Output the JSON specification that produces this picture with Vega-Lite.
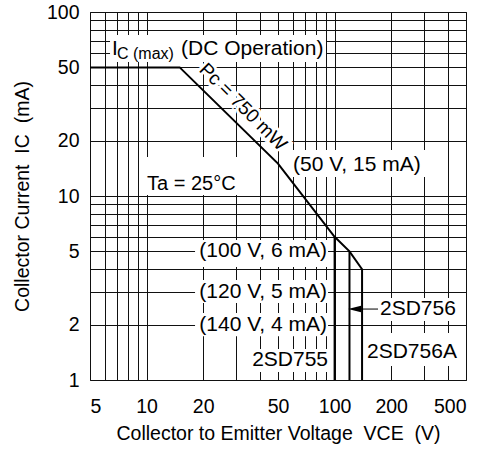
{
  "$schema": "https://vega.github.io/schema/vega-lite/v6.json",
  "width": 376,
  "height": 368,
  "autosize": {"type": "none"},
  "padding": {"left": 90, "top": 12, "right": 28, "bottom": 72},
  "background": "white",
  "config": {
    "view": {"stroke": "#222", "strokeWidth": 1},
    "font": "Liberation Sans",
    "text": {"font": "Liberation Sans", "color": "#000"},
    "axis": {
      "domain": false,
      "ticks": true,
      "tickSize": 0,
      "tickWidth": 0,
      "grid": true,
      "gridColor": "#111",
      "gridWidth": 1,
      "gridOpacity": 1,
      "labelFont": "Liberation Sans",
      "labelFontSize": 19.5,
      "labelColor": "#000",
      "labelOverlap": false,
      "titleFont": "Liberation Sans",
      "titleFontSize": 19.5,
      "titleFontWeight": "normal",
      "titleColor": "#000"
    }
  },
  "datasets": {
    "masks": [
      {"x": 6.39, "x2": 90, "y": 53.5, "y2": 75},
      {"x": 9.57, "x2": 35.5, "y": 10.13, "y2": 16.3},
      {"x": 57.9, "x2": 306, "y": 12.69, "y2": 17.8},
      {"x": 18.1, "x2": 92.3, "y": 4.11, "y2": 5.77},
      {"x": 18.1, "x2": 92.3, "y": 2.62, "y2": 3.5},
      {"x": 18.1, "x2": 92.3, "y": 1.73, "y2": 2.31},
      {"x": 35.5, "x2": 93.4, "y": 1.105, "y2": 1.474},
      {"x": 143.4, "x2": 464.6, "y": 2.094, "y2": 2.79},
      {"x": 143.4, "x2": 464.6, "y": 1.19, "y2": 1.8}
    ],
    "soa": [
      {"x": 5, "y": 50, "ord": 1},
      {"x": 15, "y": 50, "ord": 2},
      {"x": 50, "y": 15, "ord": 3},
      {"x": 100, "y": 6, "ord": 4},
      {"x": 120, "y": 5, "ord": 5},
      {"x": 140, "y": 4, "ord": 6},
      {"x": 140, "y": 1, "ord": 7}
    ],
    "vlines": [
      {"x": 100, "y": 1, "y2": 6},
      {"x": 120, "y": 1, "y2": 5}
    ],
    "arrow": [
      {"x": 127.6, "x2": 170.2, "y": 2.43}
    ],
    "labels": [
      {"kind": "big", "x": 6.55, "y": 58.4, "text": "I"},
      {"kind": "sub", "x": 6.96, "y": 55.6, "text": "C (max)"},
      {"kind": "big", "x": 15.24, "y": 58.4, "text": "(DC Operation)"},
      {"kind": "big", "x": 60.1, "y": 13.67, "text": "(50 V, 15 mA)"},
      {"kind": "ta", "x": 10.05, "y": 10.78, "text": "Ta = 25°C"},
      {"kind": "pc", "x": 32.6, "y": 30.5, "text": "Pc = 750 mW"},
      {"kind": "right", "x": 91.1, "y": 5, "text": "(100 V, 6 mA)"},
      {"kind": "right", "x": 91.1, "y": 3, "text": "(120 V, 5 mA)"},
      {"kind": "right", "x": 91.1, "y": 2, "text": "(140 V, 4 mA)"},
      {"kind": "right", "x": 92.3, "y": 1.284, "text": "2SD755"},
      {"kind": "left", "x": 174.3, "y": 2.43, "text": "2SD756"},
      {"kind": "left", "x": 148.7, "y": 1.42, "text": "2SD756A"}
    ]
  },
  "encoding": {
    "x": {
      "field": "x",
      "type": "quantitative",
      "scale": {"type": "log", "domain": [5, 500], "nice": false, "zero": false},
      "axis": {
        "values": [5, 6, 7, 8, 9, 10, 20, 30, 40, 50, 60, 70, 80, 90, 100, 200, 300, 400, 500],
        "labelExpr": "indexof([5,10,20,50,100,200,500], datum.value) >= 0 ? format(datum.value, 'd') : ''",
        "labelPadding": 17,
        "title": "Collector to Emitter Voltage\u00a0 VCE\u00a0 (V)",
        "titlePadding": 9
      }
    },
    "y": {
      "field": "y",
      "type": "quantitative",
      "scale": {"type": "log", "domain": [1, 100], "nice": false, "zero": false},
      "axis": {
        "values": [1, 2, 3, 4, 5, 6, 7, 8, 9, 10, 20, 30, 40, 50, 60, 70, 80, 90, 100],
        "labelExpr": "indexof([1,2,5,10,20,50,100], datum.value) >= 0 ? format(datum.value, 'd') : ''",
        "labelPadding": 11,
        "title": "Collector Current\u00a0 IC\u00a0 (mA)",
        "titlePadding": 14
      }
    }
  },
  "layer": [
    {
      "data": {"name": "masks"},
      "mark": {"type": "rect", "fill": "white", "strokeWidth": 0, "opacity": 1},
      "encoding": {
        "x2": {"field": "x2"},
        "y2": {"field": "y2"}
      }
    },
    {
      "data": {"name": "labels"},
      "transform": [{"filter": "datum.kind === 'pc'"}],
      "mark": {"type": "text", "fontSize": 19, "align": "center", "baseline": "middle", "angle": 45, "fill": "white", "stroke": "white", "strokeWidth": 6},
      "encoding": {"text": {"field": "text"}}
    },
    {
      "data": {"name": "soa"},
      "mark": {"type": "line", "color": "#000", "strokeWidth": 2, "strokeCap": "butt"},
      "encoding": {"order": {"field": "ord"}}
    },
    {
      "data": {"name": "vlines"},
      "mark": {"type": "rule", "color": "#000", "strokeWidth": 2},
      "encoding": {"y2": {"field": "y2"}}
    },
    {
      "data": {"name": "arrow"},
      "mark": {"type": "rule", "color": "#000", "strokeWidth": 1},
      "encoding": {"x2": {"field": "x2"}}
    },
    {
      "data": {"name": "arrow"},
      "mark": {"type": "point", "shape": "M -1 0 L 1 -0.5 L 1 0.5 Z", "size": 169, "filled": true, "color": "#000", "opacity": 1},
      "encoding": {}
    },
    {
      "data": {"name": "labels"},
      "transform": [{"filter": "datum.kind === 'pc'"}],
      "mark": {"type": "text", "fontSize": 19, "align": "center", "baseline": "middle", "angle": 45, "color": "#000"},
      "encoding": {"text": {"field": "text"}}
    },
    {
      "data": {"name": "labels"},
      "transform": [{"filter": "datum.kind === 'big'"}],
      "mark": {"type": "text", "fontSize": 21, "align": "left", "baseline": "alphabetic", "color": "#000"},
      "encoding": {"text": {"field": "text"}}
    },
    {
      "data": {"name": "labels"},
      "transform": [{"filter": "datum.kind === 'ta'"}],
      "mark": {"type": "text", "fontSize": 20, "align": "left", "baseline": "alphabetic", "color": "#000"},
      "encoding": {"text": {"field": "text"}}
    },
    {
      "data": {"name": "labels"},
      "transform": [{"filter": "datum.kind === 'sub'"}],
      "mark": {"type": "text", "fontSize": 16, "align": "left", "baseline": "alphabetic", "color": "#000"},
      "encoding": {"text": {"field": "text"}}
    },
    {
      "data": {"name": "labels"},
      "transform": [{"filter": "datum.kind === 'right'"}],
      "mark": {"type": "text", "fontSize": 21, "align": "right", "baseline": "middle", "color": "#000"},
      "encoding": {"text": {"field": "text"}}
    },
    {
      "data": {"name": "labels"},
      "transform": [{"filter": "datum.kind === 'left'"}],
      "mark": {"type": "text", "fontSize": 21, "align": "left", "baseline": "middle", "color": "#000"},
      "encoding": {"text": {"field": "text"}}
    }
  ]
}
